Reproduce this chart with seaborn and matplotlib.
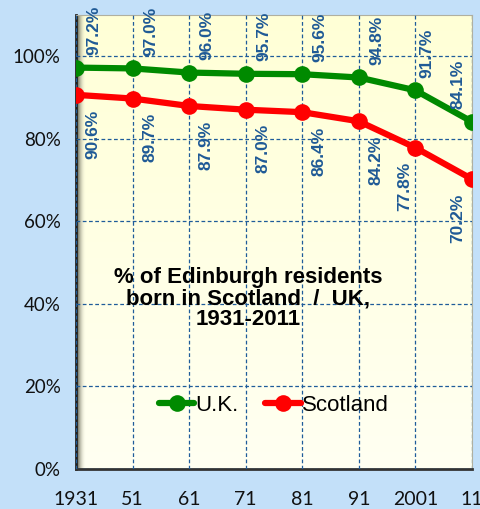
import numpy as np
import pandas as pd
import matplotlib.pyplot as plt
import seaborn as sns
from matplotlib.colors import LinearSegmentedColormap

years = ['1931', '51', '61', '71', '81', '91', '2001', '11']
uk = [97.2, 97.0, 96.0, 95.7, 95.6, 94.8, 91.7, 84.1]
scotland = [90.6, 89.7, 87.9, 87.0, 86.4, 84.2, 77.8, 70.2]

df = pd.DataFrame({
    'year': list(range(len(years))) * 2,
    'pct': uk + scotland,
    'series': ['U.K.'] * len(uk) + ['Scotland'] * len(scotland),
})

sns.set_style('white')
plt.rcParams['font.family'] = ['Liberation Sans', 'DejaVu Sans']
plt.rcParams['text.color'] = 'black'
plt.rcParams['xtick.color'] = '#111111'
plt.rcParams['ytick.color'] = '#111111'

fig = plt.figure(figsize=(4.81, 5.09), dpi=100)
fig.patch.set_facecolor('#c3e0f9')
ax = fig.add_axes([0.158, 0.079, 0.823, 0.892])

# fond jaune en dégradé
grad = np.linspace(0, 1, 256).reshape(-1, 1)
cmap = LinearSegmentedColormap.from_list('bg', ['#fffff2', '#ffffd6'])
ax.imshow(grad, extent=[0, 1, 0, 1], transform=ax.transAxes, cmap=cmap,
          aspect='auto', origin='lower', zorder=0)
# ombre sur le bord gauche
shade = np.linspace(0, 1, 64).reshape(1, -1)
cmap2 = LinearSegmentedColormap.from_list('sh', [(0.2, 0.2, 0.15, 1), (1, 1, 0.9, 0)])
ax.imshow(shade, extent=[0, 0.025, 0, 1], transform=ax.transAxes, cmap=cmap2,
          aspect='auto', zorder=0.5)

sns.lineplot(data=df, x='year', y='pct', hue='series',
             palette={'U.K.': '#008a00', 'Scotland': '#ff0000'},
             marker='o', markersize=12, markeredgewidth=0, linewidth=4.5,
             ax=ax, zorder=3, legend=True)

ax.set_xlim(0, 7)
ax.set_ylim(0, 110)
ax.set_xticks(range(len(years)))
ax.set_xticklabels(years, fontfamily='Lato', fontsize=14)
ax.set_yticks([0, 20, 40, 60, 80, 100])
ax.set_yticklabels(['0%', '20%', '40%', '60%', '80%', '100%'],
                   fontfamily='Lato', fontsize=13.5)
ax.set_xlabel('')
ax.set_ylabel('')
ax.tick_params(axis='x', length=0, pad=16)
ax.tick_params(axis='y', length=7, width=1, color='#909090', pad=4)
ax.set_axisbelow(False)
ax.grid(True, color='#1f5c9a', linestyle=(0, (3, 2)), linewidth=0.9, zorder=1)
for s in ['top', 'right']:
    ax.spines[s].set_color('#b0b0a0')
ax.spines['left'].set_color('#222222')
ax.spines['left'].set_linewidth(2)
ax.spines['bottom'].set_color('#333333')
ax.spines['bottom'].set_linewidth(2)

lab_col = '#1f5a96'
for i, v in enumerate(uk):
    dx = 0.32
    if i == 6:
        dx = 0.2
    if i == 7:
        dx = -0.25
    ax.text(i + dx, v + 3.0, f'{v:.1f}%', rotation=90, ha='center', va='bottom',
            color=lab_col, fontsize=12.5, fontweight='bold', zorder=4)
for i, v in enumerate(scotland):
    dx = 0.3
    if i == 6:
        dx = -0.18
    if i == 7:
        dx = -0.25
    ax.text(i + dx, v - 3.5, f'{v:.1f}%', rotation=90, ha='center', va='top',
            color=lab_col, fontsize=12.5, fontweight='bold', zorder=4)

ax.text(0.435, 0.375, '% of Edinburgh residents\nborn in Scotland  /  UK,\n1931-2011',
        transform=ax.transAxes, ha='center', va='center', fontsize=16,
        fontweight='bold', linespacing=1.0, zorder=4)

leg = ax.legend(loc='center', bbox_to_anchor=(0.5, 0.14), ncol=2, frameon=False,
                fontsize=16, handlelength=1.6, handletextpad=0.05, columnspacing=1.2)
for h in leg.legend_handles:
    h.set_linewidth(4.5)

fig.savefig('out.png', dpi=100, facecolor=fig.get_facecolor())
